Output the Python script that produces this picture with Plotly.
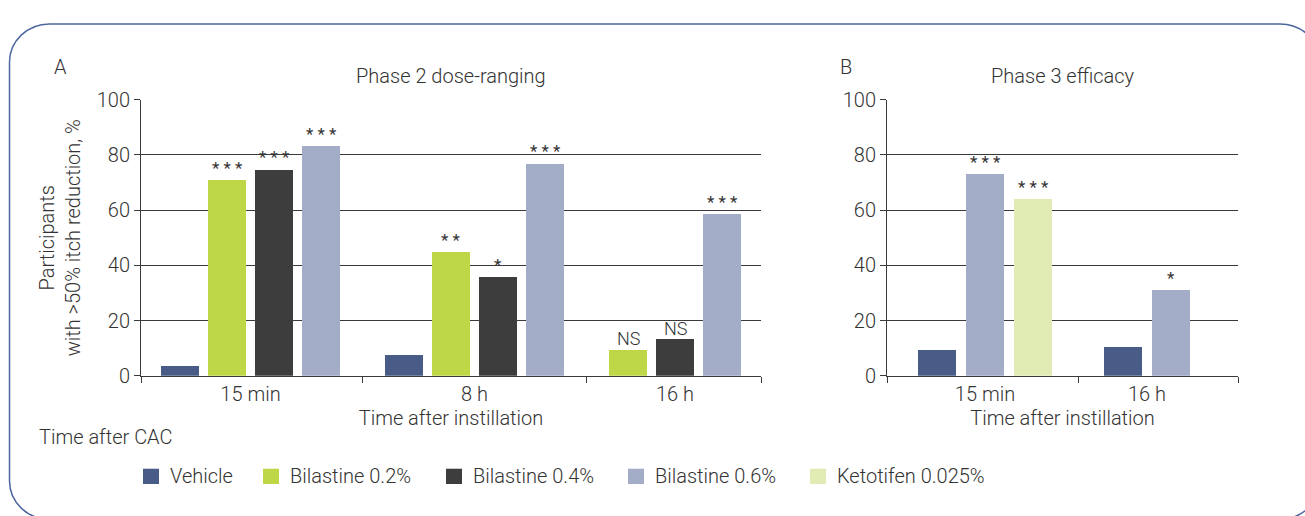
import plotly.graph_objects as go

# ---- data -------------------------------------------------------------
series_names = ["Vehicle", "Bilastine 0.2%", "Bilastine 0.4%", "Bilastine 0.6%", "Ketotifen 0.025%"]
series_colors = ["#495c87", "#bed747", "#3d3d3d", "#a3adc8", "#e0ecb4"]

# Panel A: phase 2 dose-ranging
a_categories = ["15 min", "8 h", "16 h"]
a_vehicle = [3.6, 7.5, None]
a_bil02 = [71.0, 44.8, 9.6]
a_bil04 = [74.8, 35.8, 13.4]
a_bil06 = [83.4, 76.9, 58.6]
a_bil02_sig = ["***", "**", "NS"]
a_bil04_sig = ["***", "*", "NS"]
a_bil06_sig = ["***", "***", "***"]

# Panel B: phase 3 efficacy
b_categories = ["15 min", "16 h"]
b_vehicle = [9.6, 10.6]
b_bil06 = [73.1, 31.0]
b_keto = [64.1, None]
b_bil06_sig = ["***", "*"]
b_keto_sig = ["***", None]

y_ticks = [0, 20, 40, 60, 80, 100]

# ---- page geometry (pixels) ------------------------------------------
W, H = 1305, 516
FONT = "Roboto, Liberation Sans, sans-serif"
TXT = "#333333"
GRID = "#3a3a3a"


def tfont(size, weight=300):
    return dict(family=FONT, size=size, color=TXT, weight=weight)


def px(x):
    return x / W


def py(y):
    return 1 - y / H


def pack(categories, columns, pad_left, pad_right, gap, bar_w, pitch):
    """Lay bars side by side, skipping missing values inside each group."""
    pos = [[None] * len(categories) for _ in columns]
    centers, bounds = [], [0.0]
    cursor = pad_left
    for i in range(len(categories)):
        present = [k for k, col in enumerate(columns) if col[i] is not None]
        start = cursor
        for j, k in enumerate(present):
            pos[k][i] = start + bar_w / 2 + j * pitch
        end = start + bar_w + (len(present) - 1) * pitch
        centers.append((start + end) / 2)
        cursor = end + gap
        if i < len(categories) - 1:
            bounds.append(end + gap / 2)
    total = cursor - gap + pad_right
    bounds.append(total)
    return pos, centers, bounds, total


BAR_W = 38
fig = go.Figure()
annotations = []

panels = [
    dict(
        cats=a_categories,
        cols=[a_vehicle, a_bil02, a_bil04, a_bil06],
        sigs=[[None] * 3, a_bil02_sig, a_bil04_sig, a_bil06_sig],
        idx=[0, 1, 2, 3],
        left=141, pad_l=20, pad_r=20, gap=45, pitch=47,
        xa="x", ya="y", title="Phase 2 dose-ranging", letter="A", letter_x=60,
    ),
    dict(
        cats=b_categories,
        cols=[b_vehicle, b_bil06, b_keto],
        sigs=[[None] * 2, b_bil06_sig, b_keto_sig],
        idx=[0, 3, 4],
        left=887, pad_l=31, pad_r=48, gap=52, pitch=48,
        xa="x2", ya="y2", title="Phase 3 efficacy", letter="B", letter_x=846,
    ),
]

PLOT_TOP, PLOT_BOTTOM = 92, 381.5

for p_i, p in enumerate(panels):
    pos, centers, bounds, total = pack(p["cats"], p["cols"], p["pad_l"], p["pad_r"],
                                       p["gap"], BAR_W, p["pitch"])
    for k, col in enumerate(p["cols"]):
        s = p["idx"][k]
        xs = [pos[k][i] for i in range(len(col)) if col[i] is not None]
        ys = [v for v in col if v is not None]
        fig.add_trace(go.Bar(
            x=xs, y=ys, width=BAR_W, name=series_names[s],
            marker=dict(color=series_colors[s], line=dict(width=0)),
            xaxis=p["xa"], yaxis=p["ya"], showlegend=False,
        ))
        for i, v in enumerate(col):
            lab = p["sigs"][k][i]
            if v is None or not lab:
                continue
            star = lab.startswith("*")
            annotations.append(dict(
                x=pos[k][i], y=v, xref=p["xa"], yref=p["ya"],
                text=" ".join(lab) if star else lab,
                showarrow=False, yanchor="bottom", yshift=(0 if star else -2),
                font=tfont(17, 400) if star else tfont(18),
            ))

    suffix = "" if p_i == 0 else "2"
    right = p["left"] + total
    fig.layout["xaxis" + suffix] = dict(
        domain=[px(p["left"]), px(right)], range=[0, total], anchor=p["ya"],
        showgrid=False, zeroline=False, showline=True, linecolor=GRID, linewidth=1,
        tickmode="array", tickvals=centers, ticktext=p["cats"], ticks="",
        tickfont=tfont(20),
        minor=dict(tickmode="array", tickvals=bounds, ticks="outside", ticklen=6,
                   tickcolor=GRID, tickwidth=1, showgrid=False),
        title=dict(text="Time after instillation", standoff=6, font=tfont(20)),
        fixedrange=True,
    )
    fig.layout["yaxis" + suffix] = dict(
        domain=[py(PLOT_BOTTOM), py(PLOT_TOP)], range=[0, 100], anchor=p["xa"],
        tickmode="array", tickvals=y_ticks, ticks="outside", ticklen=6,
        tickcolor=GRID, showgrid=True, gridcolor=GRID, gridwidth=1,
        zeroline=False, showline=True, linecolor=GRID, linewidth=1,
        tickfont=tfont(20),
        fixedrange=True,
    )
    mid = (p["left"] + right) / 2
    annotations.append(dict(
        x=px(mid), y=py(67), xref="paper", yref="paper", text=p["title"],
        showarrow=False, xanchor="center", yanchor="middle", font=tfont(20),
    ))
    annotations.append(dict(
        x=px(p["letter_x"]), y=py(58), xref="paper", yref="paper", text=p["letter"],
        showarrow=False, xanchor="center", yanchor="middle", font=tfont(20),
    ))

fig.layout.yaxis.title = dict(text="Participants<br>with >50% itch reduction, %",
                              standoff=10, font=tfont(20))

annotations.append(dict(
    x=px(37), y=py(446), xref="paper", yref="paper", text="Time after CAC",
    showarrow=False, xanchor="left", yanchor="middle", font=tfont(20),
))

# ---- legend ------------------------------------------------------------
shapes = []
legend_x = [143, 263, 446, 628, 810]
LEG_Y = 487
for name, color, lx in zip(series_names, series_colors, legend_x):
    shapes.append(dict(type="rect", xref="paper", yref="paper",
                       x0=px(lx), x1=px(lx + 16), y0=py(LEG_Y + 8), y1=py(LEG_Y - 8),
                       fillcolor=color, line=dict(width=0)))
    annotations.append(dict(
        x=px(lx + 25), y=py(LEG_Y), xref="paper", yref="paper", text=name,
        showarrow=False, xanchor="left", yanchor="middle", font=tfont(20),
    ))

# ---- rounded frame -------------------------------------------------------
L, T, R, B, r = 9.5, 12.5, 1320, 532, 40
k = 0.5523 * r
pts = [
    ("M", [(L + r, T)]),
    ("L", [(R - r, T)]),
    ("C", [(R - r + k, T), (R, T + r - k), (R, T + r)]),
    ("L", [(R, B - r)]),
    ("C", [(R, B - r + k), (R - r + k, B), (R - r, B)]),
    ("L", [(L + r, B)]),
    ("C", [(L + r - k, B), (L, B - r + k), (L, B - r)]),
    ("L", [(L, T + r)]),
    ("C", [(L, T + r - k), (L + r - k, T), (L + r, T)]),
]
path = " ".join(cmd + " ".join(f"{px(x):.5f},{py(y):.5f}" for x, y in xy) for cmd, xy in pts) + " Z"
shapes.append(dict(type="path", path=path, xref="paper", yref="paper",
                   line=dict(color="#4d67a0", width=1.5), fillcolor="rgba(0,0,0,0)"))

fig.update_layout(
    width=W, height=H, autosize=False,
    margin=dict(l=0, r=0, t=0, b=0, pad=0),
    paper_bgcolor="white", plot_bgcolor="white",
    barmode="overlay", bargap=0,
    annotations=annotations, shapes=shapes,
    font=tfont(20),
)

fig.write_html("out.html", config={"displayModeBar": False})
